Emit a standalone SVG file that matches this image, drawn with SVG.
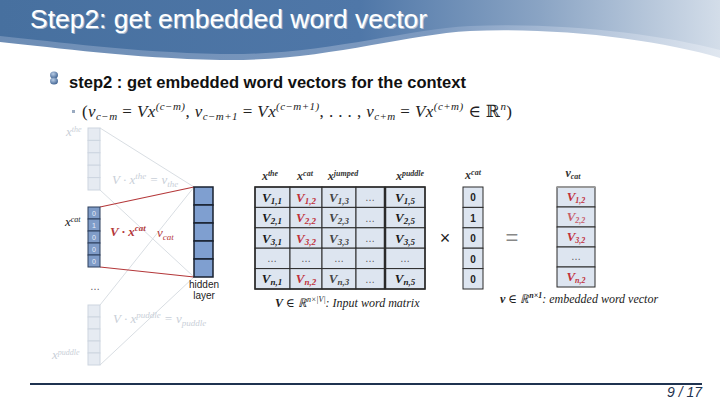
<svg xmlns="http://www.w3.org/2000/svg" width="720" height="405" viewBox="0 0 720 405">
<defs>
<linearGradient id="hdr" x1="0" y1="0" x2="1" y2="0">
<stop offset="0" stop-color="#47709f"/>
<stop offset="0.5" stop-color="#4f77a8"/>
<stop offset="0.75" stop-color="#8aa4c4"/>
<stop offset="1" stop-color="#d3dde9"/>
</linearGradient>
<linearGradient id="hdr2" x1="0" y1="0" x2="1" y2="0">
<stop offset="0" stop-color="#6d8db5"/>
<stop offset="0.6" stop-color="#7d9ac0"/>
<stop offset="1" stop-color="#e0e7f0"/>
</linearGradient>
<radialGradient id="ball" cx="0.4" cy="0.35" r="0.7">
<stop offset="0" stop-color="#b9cde6"/>
<stop offset="1" stop-color="#3b5f8f"/>
</radialGradient>
<style>
.title{font-family:"Liberation Sans",Arial,sans-serif;font-size:25px;fill:#ffffff}
.h1{font-family:"Liberation Sans",Arial,sans-serif;font-weight:bold;font-size:17px;fill:#111}
.fm{font-family:"Liberation Serif","DejaVu Serif",serif;font-size:17px;fill:#222}
.it{font-style:italic}
.mc{fill:#dde5f0;stroke:#2a2a2a;stroke-width:1}
.mv{font-family:"Liberation Serif","DejaVu Serif",serif;font-style:italic;font-weight:bold;font-size:13px;text-anchor:middle}
.blk{fill:#1a1a1a}
.red{fill:#c0303a}
.gry{fill:#444}
.dots{font-family:"Liberation Sans",Arial,sans-serif;font-size:10px;fill:#555;text-anchor:middle}
.hd{font-family:"Liberation Serif","DejaVu Serif",serif;font-style:italic;font-weight:bold;font-size:12px;fill:#333;text-anchor:middle}
.vc{fill:#dde5f0;stroke:#2a2a2a;stroke-width:1}
.num{font-family:"Liberation Sans",Arial,sans-serif;font-weight:bold;font-size:10px;fill:#222;text-anchor:middle}
.cap{font-family:"Liberation Serif","DejaVu Serif",serif;font-style:italic;font-size:12px;fill:#222}
.fcell{fill:#e6ebf2;stroke:#cdd5e0;stroke-width:1}
.dcell{fill:#7f9cc8;stroke:#2d3f5c;stroke-width:1}
.hcell{fill:#7f9fd0;stroke:#18212f;stroke-width:1.5}
.tiny{font-family:"Liberation Sans",Arial,sans-serif;font-size:7px;text-anchor:middle}
.lab{font-family:"Liberation Serif","DejaVu Serif",serif;font-style:italic;font-size:13px}
.faded{fill:#c9cfd8}
.fline{stroke:#d9dee3;stroke-width:1;fill:none}
.rline{stroke:#b4383a;stroke-width:1.2;fill:none}
.sans{font-family:"Liberation Sans",Arial,sans-serif;font-size:10px;fill:#222;text-anchor:middle}
</style>
</defs>

<g id="header">
<path d="M0,0 H720 V58 C660,40 560,27 470,31 C400,35 320,62 220,60 C130,58 60,48 0,42 Z" fill="url(#hdr2)"/>
<path d="M0,0 H720 V50 C660,34 560,22 470,26 C400,30 320,56 220,54 C130,52 60,42 0,36 Z" fill="url(#hdr)"/>
<text x="31" y="29" class="title" fill="#1c2e48" opacity="0.5" textLength="397" lengthAdjust="spacingAndGlyphs">Step2: get embedded word vector</text>
<text x="30" y="28" class="title" textLength="397" lengthAdjust="spacingAndGlyphs">Step2: get embedded word vector</text>
</g>

<g id="heading">
<ellipse cx="54" cy="75" rx="4" ry="3.5" fill="url(#ball)"/>
<ellipse cx="54" cy="81" rx="4" ry="3.5" fill="url(#ball)"/>
<text x="69" y="88" class="h1" textLength="397" lengthAdjust="spacingAndGlyphs">step2 : get embedded word vectors for the context</text>
</g>

<g id="formula">
<rect x="72" y="110" width="3" height="3" fill="#9aaac0"/>
<text x="82" y="117" class="fm" textLength="430" lengthAdjust="spacing">(<tspan class="it">v</tspan><tspan font-size="11" class="it" dy="3">c−m</tspan><tspan dy="-3"> = </tspan><tspan class="it">Vx</tspan><tspan font-size="11" class="it" dy="-7">(c−m)</tspan><tspan dy="7">, </tspan><tspan class="it">v</tspan><tspan font-size="11" class="it" dy="3">c−m+1</tspan><tspan dy="-3"> = </tspan><tspan class="it">Vx</tspan><tspan font-size="11" class="it" dy="-7">(c−m+1)</tspan><tspan dy="7">, . . . , </tspan><tspan class="it">v</tspan><tspan font-size="11" class="it" dy="3">c+m</tspan><tspan dy="-3"> = </tspan><tspan class="it">Vx</tspan><tspan font-size="11" class="it" dy="-7">(c+m)</tspan><tspan dy="7"> ∈ ℝ</tspan><tspan font-size="11" class="it" dy="-7">n</tspan><tspan dy="7">)</tspan></text>
</g>

<g id="connectors">
<line class="fline" x1="100" y1="128" x2="194" y2="187"/>
<line class="fline" x1="100" y1="190" x2="194" y2="277"/>
<line class="fline" x1="100" y1="305" x2="194" y2="187"/>
<line class="fline" x1="100" y1="365" x2="194" y2="277"/>
<line class="rline" x1="100" y1="207" x2="194" y2="187"/>
<line class="rline" x1="100" y1="267" x2="194" y2="277"/>
</g>

<g id="x-the">
<rect class="fcell" x="88" y="128" width="12" height="12.4"/>
<rect class="fcell" x="88" y="140.4" width="12" height="12.4"/>
<rect class="fcell" x="88" y="152.8" width="12" height="12.4"/>
<rect class="fcell" x="88" y="165.2" width="12" height="12.4"/>
<rect class="fcell" x="88" y="177.6" width="12" height="12.4"/>
<text class="lab faded" x="66" y="136">x<tspan font-size="8" dy="-4">the</tspan></text>
<text class="lab faded" x="112" y="184">V · x<tspan font-size="9" dy="-5">the</tspan><tspan dy="5"> = </tspan>v<tspan font-size="9" dy="3">the</tspan></text>
</g>

<g id="x-cat">
<rect class="dcell" x="88" y="207" width="12" height="12"/>
<rect class="dcell" x="88" y="219" width="12" height="12"/>
<rect class="dcell" x="88" y="231" width="12" height="12"/>
<rect class="dcell" x="88" y="243" width="12" height="12"/>
<rect class="dcell" x="88" y="255" width="12" height="12"/>
<text class="tiny" x="94" y="215.5" fill="#e8eef8">0</text>
<text class="tiny" x="94" y="227.5" fill="#e8eef8">1</text>
<text class="tiny" x="94" y="239.5" fill="#e8eef8">0</text>
<text class="tiny" x="94" y="251.5" fill="#e8eef8">0</text>
<text class="tiny" x="94" y="263.5" fill="#e8eef8">0</text>
<text class="lab" x="65" y="226" fill="#222">x<tspan font-size="8" dy="-4">cat</tspan></text>
<text class="lab" x="110" y="236" fill="#b4383a" font-weight="bold">V · x<tspan font-size="9" dy="-5">cat</tspan></text>
<text class="lab" x="157" y="237" fill="#b4383a">v<tspan font-size="9" dy="3">cat</tspan></text>
</g>

<g id="ellipsis-left">
<text class="dots" x="95" y="290" fill="#aaa">…</text>
</g>

<g id="x-puddle">
<rect class="fcell" x="88" y="305" width="12" height="12"/>
<rect class="fcell" x="88" y="317" width="12" height="12"/>
<rect class="fcell" x="88" y="329" width="12" height="12"/>
<rect class="fcell" x="88" y="341" width="12" height="12"/>
<rect class="fcell" x="88" y="353" width="12" height="12"/>
<text class="lab faded" x="52" y="359" font-size="10">x<tspan font-size="8" dy="-4">puddle</tspan></text>
<text class="lab faded" x="113" y="323">V · x<tspan font-size="9" dy="-5">puddle</tspan><tspan dy="5"> = </tspan>v<tspan font-size="9" dy="3">puddle</tspan></text>
</g>

<g id="hidden-layer">
<rect class="hcell" x="194" y="187" width="19" height="18"/>
<rect class="hcell" x="194" y="205" width="19" height="18"/>
<rect class="hcell" x="194" y="223" width="19" height="18"/>
<rect class="hcell" x="194" y="241" width="19" height="18"/>
<rect class="hcell" x="194" y="259" width="19" height="18"/>
<text class="sans" x="204" y="288">hidden</text>
<text class="sans" x="204" y="299">layer</text>
</g>

<g id="matrix-V">
<text class="hd" x="270" y="180">x<tspan font-size="8" dy="-4">the</tspan></text>
<text class="hd" x="305" y="180">x<tspan font-size="8" dy="-4">cat</tspan></text>
<text class="hd" x="343" y="180">x<tspan font-size="8" dy="-4">jumped</tspan></text>
<text class="hd" x="410" y="180">x<tspan font-size="8" dy="-4">puddle</tspan></text>
<rect class="mc" x="255" y="187" width="35" height="20.4"/>
<rect class="mc" x="290" y="187" width="32" height="20.4"/>
<rect class="mc" x="322" y="187" width="34" height="20.4"/>
<rect class="mc" x="356" y="187" width="29" height="20.4"/>
<rect class="mc" x="385" y="187" width="40" height="20.4"/>
<rect class="mc" x="255" y="207.4" width="35" height="20.4"/>
<rect class="mc" x="290" y="207.4" width="32" height="20.4"/>
<rect class="mc" x="322" y="207.4" width="34" height="20.4"/>
<rect class="mc" x="356" y="207.4" width="29" height="20.4"/>
<rect class="mc" x="385" y="207.4" width="40" height="20.4"/>
<rect class="mc" x="255" y="227.8" width="35" height="20.4"/>
<rect class="mc" x="290" y="227.8" width="32" height="20.4"/>
<rect class="mc" x="322" y="227.8" width="34" height="20.4"/>
<rect class="mc" x="356" y="227.8" width="29" height="20.4"/>
<rect class="mc" x="385" y="227.8" width="40" height="20.4"/>
<rect class="mc" x="255" y="248.2" width="35" height="20.4"/>
<rect class="mc" x="290" y="248.2" width="32" height="20.4"/>
<rect class="mc" x="322" y="248.2" width="34" height="20.4"/>
<rect class="mc" x="356" y="248.2" width="29" height="20.4"/>
<rect class="mc" x="385" y="248.2" width="40" height="20.4"/>
<rect class="mc" x="255" y="268.6" width="35" height="20.4"/>
<rect class="mc" x="290" y="268.6" width="32" height="20.4"/>
<rect class="mc" x="322" y="268.6" width="34" height="20.4"/>
<rect class="mc" x="356" y="268.6" width="29" height="20.4"/>
<rect class="mc" x="385" y="268.6" width="40" height="20.4"/>
<line x1="385" y1="187" x2="385" y2="289" stroke="#2a2a2a" stroke-width="2.5"/>
<rect x="255" y="187" width="170" height="102" fill="none" stroke="#2a2a2a" stroke-width="1.5"/>
<text class="mv blk" x="272" y="202">V<tspan font-size="9" dy="2">1,1</tspan></text>
<text class="mv red" x="306" y="202">V<tspan font-size="9" dy="2">1,2</tspan></text>
<text class="mv gry" x="339" y="202">V<tspan font-size="9" dy="2">1,3</tspan></text>
<text class="dots" x="370" y="201">…</text>
<text class="mv blk" x="405" y="202">V<tspan font-size="9" dy="2">1,5</tspan></text>
<text class="mv blk" x="272" y="222.4">V<tspan font-size="9" dy="2">2,1</tspan></text>
<text class="mv red" x="306" y="222.4">V<tspan font-size="9" dy="2">2,2</tspan></text>
<text class="mv gry" x="339" y="222.4">V<tspan font-size="9" dy="2">2,3</tspan></text>
<text class="dots" x="370" y="221.5">…</text>
<text class="mv blk" x="405" y="222.4">V<tspan font-size="9" dy="2">2,5</tspan></text>
<text class="mv blk" x="272" y="242.8">V<tspan font-size="9" dy="2">3,1</tspan></text>
<text class="mv red" x="306" y="242.8">V<tspan font-size="9" dy="2">3,2</tspan></text>
<text class="mv gry" x="339" y="242.8">V<tspan font-size="9" dy="2">3,3</tspan></text>
<text class="dots" x="370" y="242">…</text>
<text class="mv blk" x="405" y="242.8">V<tspan font-size="9" dy="2">3,5</tspan></text>
<text class="dots" x="272" y="262">…</text>
<text class="dots" x="306" y="262" fill="#c0303a">…</text>
<text class="dots" x="339" y="262">…</text>
<text class="dots" x="370" y="262">…</text>
<text class="dots" x="405" y="262">…</text>
<text class="mv blk" x="272" y="283.4">V<tspan font-size="9" dy="2">n,1</tspan></text>
<text class="mv red" x="306" y="283.4">V<tspan font-size="9" dy="2">n,2</tspan></text>
<text class="mv gry" x="339" y="283.4">V<tspan font-size="9" dy="2">n,3</tspan></text>
<text class="dots" x="370" y="282.5">…</text>
<text class="mv blk" x="405" y="283.4">V<tspan font-size="9" dy="2">n,5</tspan></text>
<text class="cap" x="275" y="307"><tspan font-weight="bold">V</tspan> ∈ ℝ<tspan font-size="8" dy="-5">n×|V|</tspan><tspan dy="5">: Input word matrix</tspan></text>
</g>

<g id="times">
<text x="445" y="244" font-family="Liberation Sans,Arial,sans-serif" font-size="18" fill="#222" text-anchor="middle">×</text>
</g>

<g id="x-cat-vector">
<text class="hd" x="473" y="179" font-size="11" fill="#555" font-weight="normal">x<tspan font-size="8" dy="-4">cat</tspan></text>
<rect class="vc" x="463" y="187" width="20" height="20.4"/>
<rect class="vc" x="463" y="207.4" width="20" height="20.4"/>
<rect class="vc" x="463" y="227.8" width="20" height="20.4"/>
<rect class="vc" x="463" y="248.2" width="20" height="20.4"/>
<rect class="vc" x="463" y="268.6" width="20" height="20.4"/>
<text class="num" x="473" y="201">0</text>
<text class="num" x="473" y="221.5">1</text>
<text class="num" x="473" y="242">0</text>
<text class="num" x="473" y="262.5">0</text>
<text class="num" x="473" y="283">0</text>
</g>

<g id="equals">
<text x="512" y="245" font-family="Liberation Sans,Arial,sans-serif" font-size="22" fill="#888" text-anchor="middle">=</text>
</g>

<g id="v-cat-vector">
<text class="hd" x="573" y="177" font-size="11" fill="#444" font-weight="normal">v<tspan font-size="8" dy="2">cat</tspan></text>
<rect class="vc" x="557" y="187" width="38" height="20"/>
<rect class="vc" x="557" y="207" width="38" height="20"/>
<rect class="vc" x="557" y="227" width="38" height="20"/>
<rect class="vc" x="557" y="247" width="38" height="20"/>
<rect class="vc" x="557" y="267" width="38" height="20"/>
<line x1="557" y1="187" x2="595" y2="187" stroke="#999" stroke-width="2"/>
<text class="mv red" x="576" y="201" font-size="11">V<tspan font-size="8" dy="2">1,2</tspan></text>
<text class="mv red" x="576" y="221" font-size="11" opacity="0.75">V<tspan font-size="8" dy="2">2,2</tspan></text>
<text class="mv red" x="576" y="241" font-size="11">V<tspan font-size="8" dy="2">3,2</tspan></text>
<text class="dots" x="576" y="260">…</text>
<text class="mv red" x="576" y="281" font-size="11">V<tspan font-size="8" dy="2">n,2</tspan></text>
<text class="cap" x="500" y="303"><tspan font-weight="bold">v</tspan> ∈ ℝ<tspan font-size="8" dy="-5" font-weight="bold">n×1</tspan><tspan dy="5">: embedded word vector</tspan></text>
</g>

<g id="footer">
<line x1="30" y1="384" x2="702" y2="384" stroke="#1f3350" stroke-width="2"/>
<text x="702" y="397" font-family="Liberation Sans,Arial,sans-serif" font-style="italic" font-size="14" fill="#1f3350" text-anchor="end">9 / 17</text>
</g>
</svg>
